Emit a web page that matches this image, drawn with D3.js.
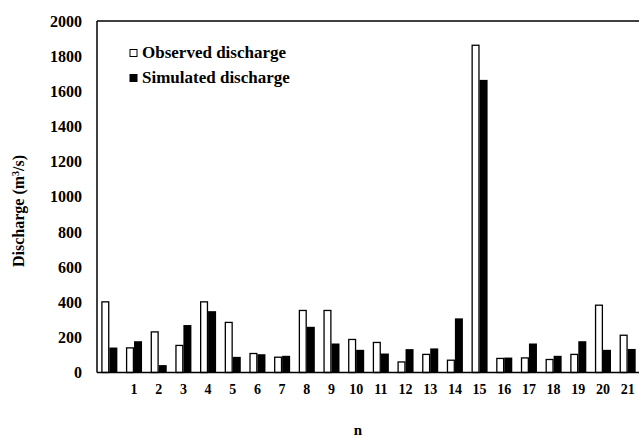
<!DOCTYPE html>
<html>
<head>
<meta charset="utf-8">
<script src="https://cdn.jsdelivr.net/npm/d3@7"></script>
<style>
  html, body { margin: 0; padding: 0; background: #fff; }
  svg { display: block; font-family: "Liberation Serif", "Times New Roman", serif; font-weight: bold; }
</style>
</head>
<body>
<svg id="chart" width="639" height="438"></svg>
<script>
// Event labels along the x axis (the first group carries no label)
const categories = ["", "1", "2", "3", "4", "5", "6", "7", "8", "9", "10",
  "11", "12", "13", "14", "15", "16", "17", "18", "19", "20", "21"];

// Peak discharge per event, m³/s
const observed = [402, 140, 231, 154, 402, 285, 108, 87, 353, 353, 188,
  171, 60, 103, 70, 1862, 80, 83, 74, 103, 383, 212];
const simulated = [142, 178, 42, 270, 349, 89, 104, 95, 260, 165, 129,
  108, 133, 137, 308, 1665, 85, 165, 95, 178, 129, 134];

const seriesNames = ["Observed discharge", "Simulated discharge"];
const yTicks = [0, 200, 400, 600, 800, 1000, 1200, 1400, 1600, 1800, 2000];

const svg = d3.select("#chart");
const plot = { left: 97, right: 640, top: 21, bottom: 372.5 };

const x = d3.scaleBand()
  .domain(d3.range(categories.length))
  .range([plot.left, plot.right])
  .paddingInner(0.35)
  .paddingOuter(0.175);

const xInner = d3.scaleBand()
  .domain([0, 1])
  .range([0, x.bandwidth()]);

const y = d3.scaleLinear().domain([0, 2000]).range([plot.bottom, plot.top]);

// Bars
const groups = svg.append("g")
  .selectAll("g")
  .data(categories.map((c, i) => ({ i, obs: observed[i], sim: simulated[i] })))
  .join("g")
  .attr("transform", d => `translate(${x(d.i)},0)`);

groups.append("rect")
  .attr("x", xInner(0) + 0.6)
  .attr("y", d => y(d.obs))
  .attr("width", xInner.bandwidth() - 1.2)
  .attr("height", d => y(0) - y(d.obs))
  .attr("fill", "#fff")
  .attr("stroke", "#000")
  .attr("stroke-width", 1.3);

groups.append("rect")
  .attr("x", xInner(1))
  .attr("y", d => y(d.sim))
  .attr("width", xInner.bandwidth())
  .attr("height", d => y(0) - y(d.sim))
  .attr("fill", "#000");

// Plot frame: top, left and baseline
const frame = svg.append("g").attr("stroke", "#000").attr("stroke-width", 1.5).attr("fill", "none");
frame.append("line").attr("x1", plot.left).attr("x2", 639).attr("y1", plot.top).attr("y2", plot.top);
frame.append("line").attr("x1", plot.left).attr("x2", plot.left).attr("y1", plot.top).attr("y2", plot.bottom);
frame.append("line").attr("x1", plot.left).attr("x2", 639).attr("y1", plot.bottom).attr("y2", plot.bottom);

// Y axis labels
const yAxis = d3.axisLeft(y).tickValues(yTicks).tickFormat(d3.format("d")).tickSize(0).tickPadding(15);
svg.append("g")
  .attr("transform", `translate(${plot.left},0)`)
  .call(yAxis)
  .call(g => g.select(".domain").remove())
  .call(g => g.selectAll("text")
    .attr("font-family", "Liberation Serif, serif")
    .attr("font-weight", "bold")
    .attr("font-size", 16)
    .attr("fill", "#000"));

// X axis labels
const xAxis = d3.axisBottom(x).tickFormat(i => categories[i]).tickSize(0).tickPadding(12);
svg.append("g")
  .attr("transform", `translate(0,${plot.bottom})`)
  .call(xAxis)
  .call(g => g.select(".domain").remove())
  .call(g => g.selectAll("text")
    .attr("font-family", "Liberation Serif, serif")
    .attr("font-weight", "bold")
    .attr("font-size", 14)
    .attr("fill", "#000"));

// Axis titles
svg.append("text")
  .attr("transform", "translate(24,211) rotate(-90)")
  .attr("text-anchor", "middle")
  .attr("font-size", 16)
  .text("Discharge (m")
  .append("tspan").attr("baseline-shift", "super").attr("font-size", 10).text("3")
  .select(function() { return this.parentNode; })
  .append("tspan").text("/s)");

svg.append("text")
  .attr("x", 358)
  .attr("y", 435)
  .attr("text-anchor", "middle")
  .attr("font-size", 15)
  .text("n");

// Legend
const legend = svg.append("g");
const legendRows = [
  { name: seriesNames[0], fill: "#fff", y: 52 },
  { name: seriesNames[1], fill: "#000", y: 77 }
];
legendRows.forEach(r => {
  legend.append("rect")
    .attr("x", 130).attr("y", r.y - 2.5)
    .attr("width", 7).attr("height", 7)
    .attr("fill", r.fill).attr("stroke", "#000").attr("stroke-width", 1);
  legend.append("text")
    .attr("x", 142).attr("y", r.y + 5.5)
    .attr("font-size", 17)
    .text(r.name);
});
</script>
</body>
</html>
